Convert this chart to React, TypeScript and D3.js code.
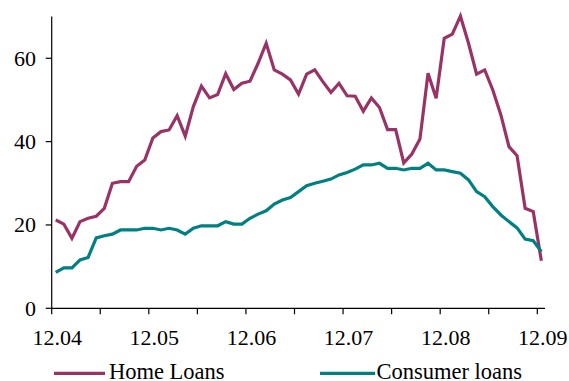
import React from "react";
import * as d3 from "d3";

const xTickLabels = ["12.04", "12.05", "12.06", "12.07", "12.08", "12.09"];
const yTicks = [0, 20, 40, 60];

const homeLoans = [
  21.2, 20.2, 16.8, 20.8, 21.6, 22.1, 24.0, 30.0, 30.4, 30.4,
  34.1, 35.6, 40.9, 42.4, 42.8, 46.2, 41.3, 48.4, 53.3, 50.5,
  51.3, 56.3, 52.5, 54.0, 54.5, 58.8, 63.6, 57.2, 56.2, 54.8,
  51.4, 56.2, 57.2, 54.4, 51.8, 54.0, 51.0, 50.9, 47.3, 50.5,
  48.2, 42.9, 42.9, 34.9, 37.0, 40.6, 56.4, 50.4, 64.8, 65.8,
  70.1, 63.6, 56.2, 57.2, 52.4, 46.4, 38.8, 36.6, 24.0, 23.2,
  11.4,
];

const consumerLoans = [
  8.6, 9.7, 9.7, 11.6, 12.2, 16.9, 17.4, 17.8, 18.8, 18.8,
  18.8, 19.2, 19.2, 18.8, 19.2, 18.8, 17.8, 19.2, 19.8, 19.8,
  19.8, 20.8, 20.2, 20.2, 21.6, 22.6, 23.4, 25.0, 26.0, 26.6,
  28.0, 29.4, 30.0, 30.5, 31.0, 32.0, 32.6, 33.4, 34.4, 34.4,
  34.8, 33.6, 33.6, 33.2, 33.6, 33.6, 34.8, 33.2, 33.2, 32.8,
  32.4, 30.8, 28.0, 26.8, 24.4, 22.4, 20.8, 19.3, 16.6, 16.2,
  13.6,
];

const seriesNames = ["Home Loans", "Consumer loans"];
const seriesColors = ["#993366", "#008080"];

const W = 569;
const H = 381;
const FONT = "Liberation Serif";

export default function App() {
  const x = d3.scaleLinear().domain([0, 60]).range([51.7, 537.3]);
  const y = d3.scaleLinear().domain([0, 70]).range([308.3, 16.6]);

  const line = d3
    .line<number>()
    .x((_, i) => x(i + 0.5))
    .y((d) => y(d))
    .curve(d3.curveLinear);

  const halfYearTicks = d3.range(0, 61, 6);
  const textStyle = { fontFamily: FONT, fontSize: "22px" };
  const legendStyle = { fontFamily: FONT, fontSize: "22.5px" };

  return (
    <svg
      width={W}
      height={H}
      style={{ position: "absolute", left: 0, top: 0, background: "#fff" }}
    >
      {/* lines */}
      <path d={line(homeLoans) || ""} fill="none" stroke={seriesColors[0]} strokeWidth={3.2} strokeLinejoin="miter" />
      <path d={line(consumerLoans) || ""} fill="none" stroke={seriesColors[1]} strokeWidth={3.2} strokeLinejoin="miter" />

      {/* y axis */}
      <line x1={x(0)} x2={x(0)} y1={y(70)} y2={y(0)} stroke="#000" strokeWidth={1.2} />
      {yTicks.map((t) => (
        <g key={t}>
          <line x1={x(0) - 6} x2={x(0)} y1={y(t)} y2={y(t)} stroke="#000" strokeWidth={1.2} />
          <text x={36} y={y(t)} dy="0.33em" textAnchor="end" style={textStyle} fill="#000">
            {t}
          </text>
        </g>
      ))}

      {/* x axis */}
      <line x1={x(0)} x2={545} y1={y(0)} y2={y(0)} stroke="#000" strokeWidth={1.2} />
      {halfYearTicks.map((m) => (
        <line key={m} x1={x(m)} x2={x(m)} y1={y(0)} y2={y(0) + 6} stroke="#000" strokeWidth={1.2} />
      ))}
      {xTickLabels.map((lbl, i) => (
        <text key={lbl} x={x(i * 12) + 5.5} y={345} textAnchor="middle" style={textStyle} fill="#000">
          {lbl}
        </text>
      ))}

      {/* legend */}
      <line x1={54} x2={105} y1={373.3} y2={373.3} stroke={seriesColors[0]} strokeWidth={3.2} />
      <text x={109} y={379} style={legendStyle} fill="#000">{seriesNames[0]}</text>
      <line x1={320} x2={375} y1={373.3} y2={373.3} stroke={seriesColors[1]} strokeWidth={3.2} />
      <text x={376.5} y={379} style={legendStyle} fill="#000">{seriesNames[1]}</text>
    </svg>
  );
}
